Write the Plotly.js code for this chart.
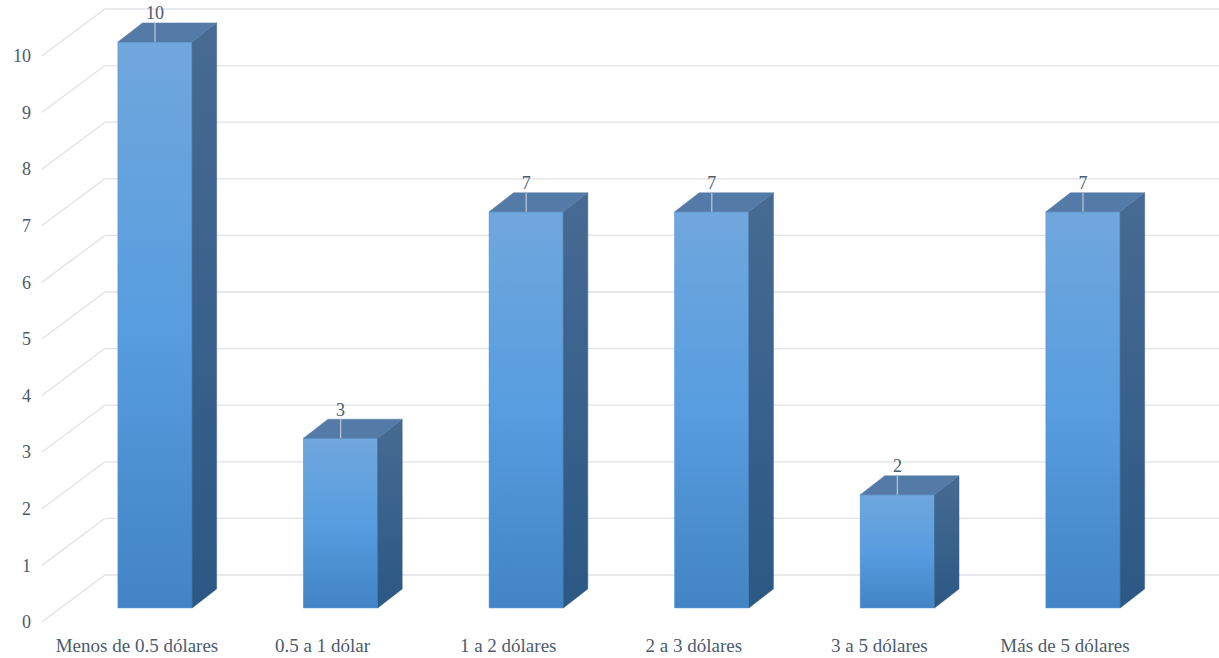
<!DOCTYPE html>
<html>
<head>
<meta charset="utf-8">
<script src="https://cdn.plot.ly/plotly-3.0.1.min.js"></script>
<style>html,body{margin:0;padding:0;background:#fff;}#chart{width:1219px;height:658px;}</style>
</head>
<body>
<div id="chart"></div>
<script>
// ---- data ----
const categories = ["Menos de 0.5 dólares", "0.5 a 1 dólar", "1 a 2 dólares", "2 a 3 dólares", "3 a 5 dólares", "Más de 5 dólares"];
const values = [10, 3, 7, 7, 2, 7];
const yTicks = [0, 1, 2, 3, 4, 5, 6, 7, 8, 9, 10];

// ---- 3D look parameters (axis units) ----
const HALF_W = 0.2;      // half bar width (category units)
const DEPTH_X = 0.132;   // bar depth offset in x
const DEPTH_Y = 0.336;   // bar depth offset in y
const BACK_DY = 0.583;   // back wall offset (y) from bar front plane
const FRONT_DX = -0.097; // front floor plane offset (x)
const FRONT_DY = -0.247; // front floor plane offset (y)
const WALL_X = -0.27;    // left edge of back wall
const WALL_DX = 0.34;    // side wall depth in x
const X_RANGE = [-0.6627, 5.7328];
const Y_RANGE = [-0.424, 10.742];

const textColor = "#4d5a6e";
const font = "\"Liberation Serif\", serif";
const xs = categories.map((c, i) => i);

const traces = [];
// base bar trace (front face)
traces.push({
  type: "bar", x: xs, y: values, width: 2 * HALF_W,
  marker: {color: "#5a9ad8", line: {width: 0}},
  customdata: categories,
  hovertemplate: "%{customdata}: %{y}<extra></extra>"
});

values.forEach((v, i) => {
  const x0 = i - HALF_W, x1 = i + HALF_W;
  // front face with gradient
  traces.push({
    type: "scatter", mode: "lines", x: [x0, x1, x1, x0, x0], y: [0, 0, v, v, 0],
    fill: "toself", fillcolor: "#5a9ad8", line: {width: 0.5, color: "#5a9ad8"},
    fillgradient: {type: "vertical", colorscale: [[0, "#4284c5"], [0.5, "#579ddf"], [1, "#70a7dd"]]},
    hoverinfo: "skip"
  });
  // side face
  traces.push({
    type: "scatter", mode: "lines",
    x: [x1, x1 + DEPTH_X, x1 + DEPTH_X, x1, x1],
    y: [0, DEPTH_Y, v + DEPTH_Y, v, 0],
    fill: "toself", fillcolor: "#385f89", line: {width: 0.5, color: "#385f89"},
    fillgradient: {type: "vertical", colorscale: [[0, "#2b5884"], [1, "#476b93"]]},
    hoverinfo: "skip"
  });
  // top face
  traces.push({
    type: "scatter", mode: "lines",
    x: [x0, x1, x1 + DEPTH_X, x0 + DEPTH_X, x0],
    y: [v, v, v + DEPTH_Y, v + DEPTH_Y, v],
    fill: "toself", fillcolor: "#547ba7", line: {width: 0.5, color: "#547ba7"},
    hoverinfo: "skip"
  });
  // leader line on the top face
  traces.push({
    type: "scatter", mode: "lines", x: [i, i], y: [v, v + DEPTH_Y],
    line: {width: 1.3, color: "#b3c3d6"}, hoverinfo: "skip"
  });
});

// data labels
traces.push({
  type: "scatter", mode: "text", x: xs, y: values.map(v => v + 0.48),
  text: values.map(String), textposition: "middle center",
  textfont: {family: font, size: 18, color: textColor}, hoverinfo: "skip"
});

// gridlines: back wall + left wall diagonals
const shapes = [];
yTicks.forEach(k => {
  shapes.push({type: "line", xref: "x", yref: "y", layer: "below",
    x0: WALL_X, x1: X_RANGE[1], y0: k + BACK_DY, y1: k + BACK_DY,
    line: {color: "#dfe2e6", width: 1.3}});
  shapes.push({type: "line", xref: "x", yref: "y", layer: "below",
    x0: WALL_X, x1: WALL_X - WALL_DX, y0: k + BACK_DY, y1: k + FRONT_DY,
    line: {color: "#dfe2e6", width: 1.3}});
});

const layout = {
  width: 1219, height: 658,
  margin: {l: 32, r: 0, t: 0, b: 26, pad: 0},
  paper_bgcolor: "#ffffff", plot_bgcolor: "#ffffff",
  showlegend: false,
  xaxis: {
    range: X_RANGE, showgrid: false, zeroline: false, showline: false, ticks: "",
    tickvals: xs.map(i => i + FRONT_DX), ticktext: categories,
    tickfont: {family: font, size: 19, color: textColor}, fixedrange: true
  },
  yaxis: {
    range: Y_RANGE, showgrid: false, zeroline: false, showline: false, ticks: "",
    tickvals: yTicks.map(k => k + FRONT_DY), ticktext: yTicks.map(String),
    tickfont: {family: font, size: 18, color: textColor}, fixedrange: true
  },
  shapes: shapes
};

Plotly.newPlot("chart", traces, layout, {displayModeBar: false, responsive: false});
</script>
</body>
</html>
